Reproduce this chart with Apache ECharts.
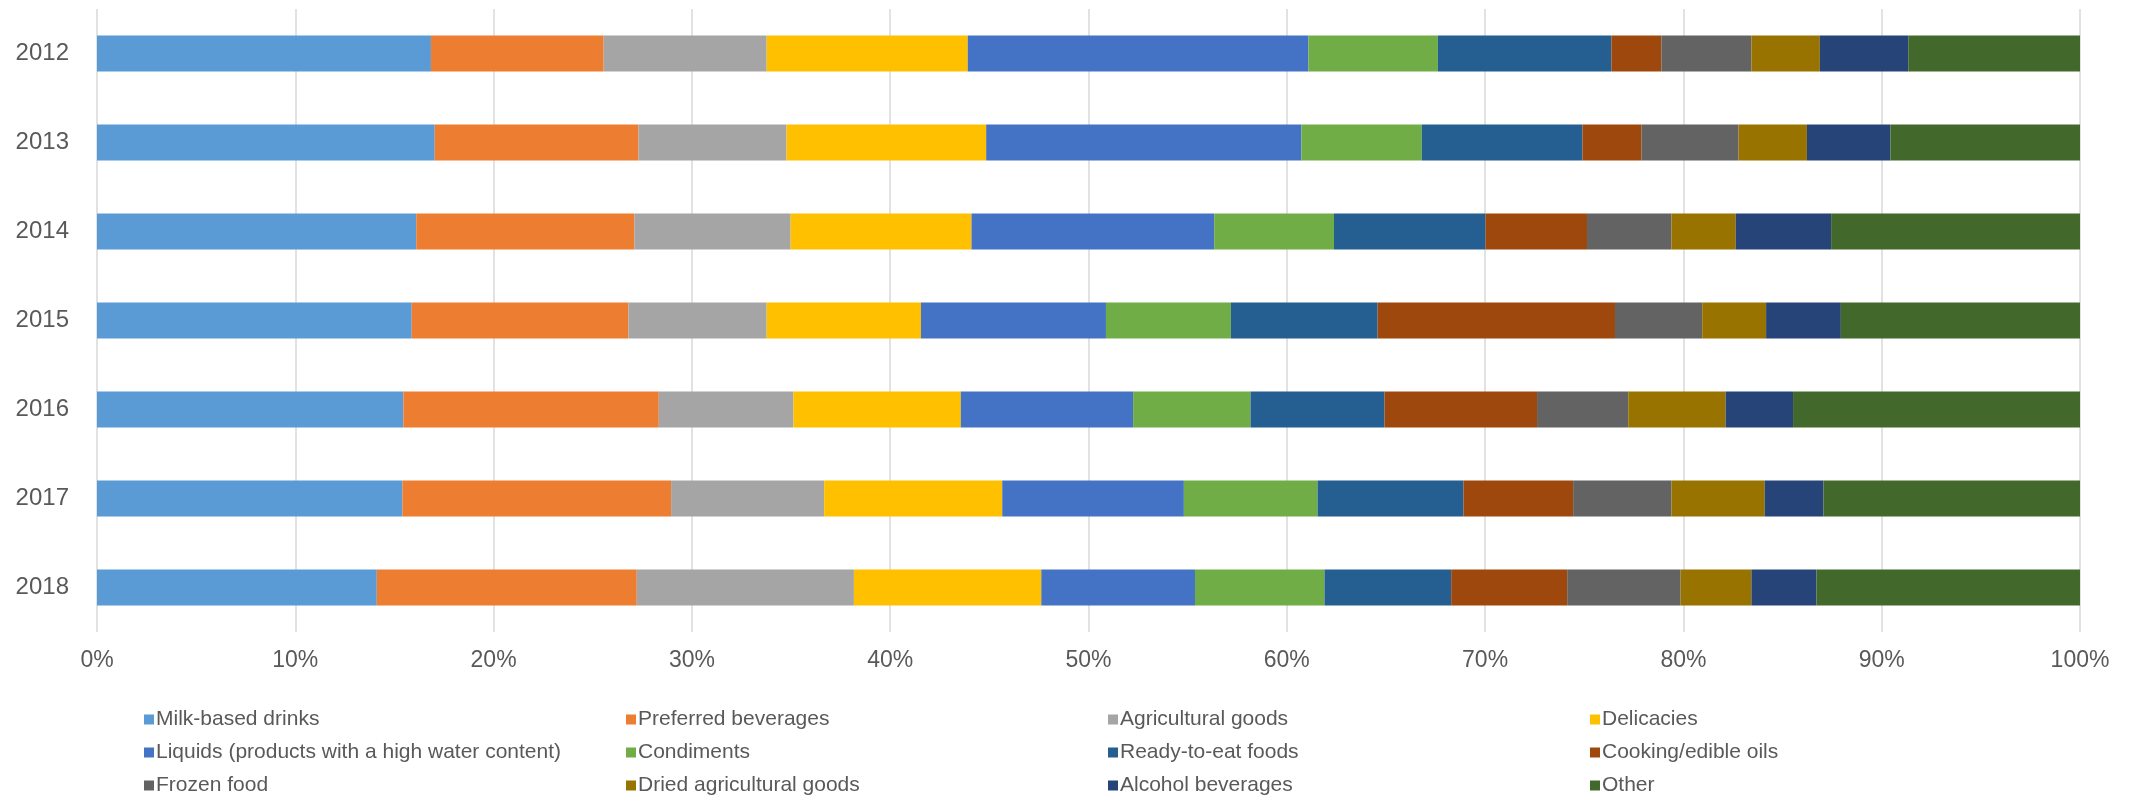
<!DOCTYPE html>
<html>
<head>
<meta charset="utf-8">
<script src="https://cdn.jsdelivr.net/npm/echarts@6/dist/echarts.min.js"></script>
<style>
html,body{margin:0;padding:0;background:#fff;}
#chart{width:2133px;height:796px;}
</style>
</head>
<body>
<div id="chart"></div>
<script>
const years = ['2012','2013','2014','2015','2016','2017','2018'];
const xTicks = ['0%','10%','20%','30%','40%','50%','60%','70%','80%','90%','100%'];

const milkBased      = [16.84, 17.03, 16.10, 15.87, 15.45, 15.40, 14.11];
const preferredBev   = [8.71, 10.28, 11.00, 10.93, 12.88, 13.55, 13.11];
const agricultural   = [8.22, 7.46, 7.88, 6.97, 6.79, 7.72, 10.95];
const delicacies     = [10.14, 10.07, 9.12, 7.78, 8.44, 8.98, 9.45];
const liquids        = [17.18, 15.90, 12.24, 9.33, 8.69, 9.16, 7.75];
const condiments     = [6.53, 6.07, 6.04, 6.30, 5.92, 6.74, 6.53];
const readyToEat     = [8.75, 8.10, 7.64, 7.40, 6.76, 7.36, 6.39];
const cookingOils    = [2.52, 2.98, 5.12, 11.97, 7.69, 5.53, 5.85];
const frozenFood     = [4.54, 4.89, 4.26, 4.40, 4.60, 4.96, 5.72];
const driedAgri      = [3.45, 3.45, 3.24, 3.22, 4.91, 4.70, 3.57];
const alcoholBev     = [4.46, 4.21, 4.81, 3.77, 3.40, 2.96, 3.28];
const other          = [8.66, 9.56, 12.55, 12.06, 14.47, 12.94, 13.29];

const seriesDefs = [
  ['Milk-based drinks', milkBased, '#5B9BD5'],
  ['Preferred beverages', preferredBev, '#ED7D31'],
  ['Agricultural goods', agricultural, '#A5A5A5'],
  ['Delicacies', delicacies, '#FFC000'],
  ['Liquids (products with a high water content)', liquids, '#4472C4'],
  ['Condiments', condiments, '#70AD47'],
  ['Ready-to-eat foods', readyToEat, '#255E91'],
  ['Cooking/edible oils', cookingOils, '#9E480E'],
  ['Frozen food', frozenFood, '#636363'],
  ['Dried agricultural goods', driedAgri, '#997300'],
  ['Alcohol beverages', alcoholBev, '#264478'],
  ['Other', other, '#43682B']
];

const legendCols = [
  ['Milk-based drinks','Liquids (products with a high water content)','Frozen food'],
  ['Preferred beverages','Condiments','Dried agricultural goods'],
  ['Agricultural goods','Ready-to-eat foods','Alcohol beverages'],
  ['Delicacies','Cooking/edible oils','Other']
];
const legendLeft = [144, 626, 1108, 1590];

const FONT = "'Liberation Sans', Arial, sans-serif";

const chart = echarts.init(document.getElementById('chart'), null, {renderer:'canvas'});
chart.setOption({
  animation: false,
  backgroundColor: '#ffffff',
  color: seriesDefs.map(d => d[2]),
  grid: { left: 97, right: 53, top: 9, bottom: 164, containLabel: false },
  legend: legendCols.map((names, i) => ({
    orient: 'vertical',
    left: legendLeft[i],
    top: 709,
    data: names,
    icon: 'rect',
    itemWidth: 10,
    itemHeight: 10,
    itemGap: 12,
    padding: 0,
    selectedMode: false,
    textStyle: { fontFamily: FONT, fontSize: 21, lineHeight: 21, color: '#595959', padding: [0,0,0,-3] }
  })),
  xAxis: {
    type: 'value',
    min: 0,
    max: 100,
    interval: 10,
    axisLine: { show: false },
    axisTick: { show: false },
    splitLine: { show: true, lineStyle: { color: '#D9D9D9', width: 1.5 } },
    axisLabel: {
      margin: 17,
      fontFamily: FONT,
      fontSize: 23,
      color: '#595959',
      formatter: function (v) { return xTicks[Math.round(v / 10)]; }
    }
  },
  yAxis: {
    type: 'category',
    data: years,
    inverse: true,
    axisLine: { show: false },
    axisTick: { show: false },
    splitLine: { show: false },
    axisLabel: { margin: 28, fontFamily: FONT, fontSize: 24, color: '#595959' }
  },
  series: seriesDefs.map(d => ({
    name: d[0],
    type: 'bar',
    stack: 'total',
    barWidth: 36,
    data: d[1],
    itemStyle: { color: d[2] }
  }))
});
</script>
</body>
</html>
